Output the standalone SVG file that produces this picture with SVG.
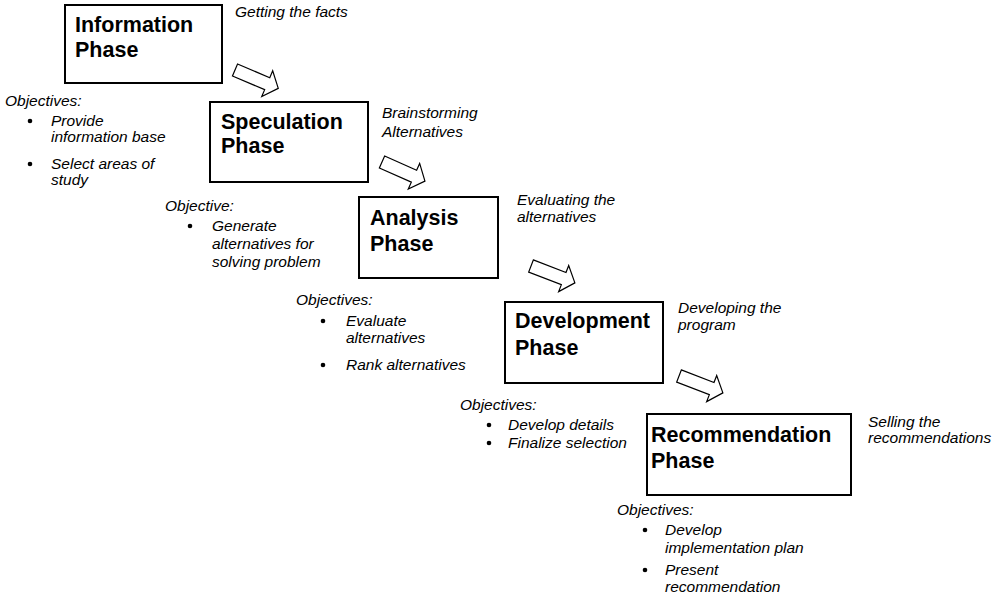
<svg xmlns="http://www.w3.org/2000/svg" width="1006" height="602" viewBox="0 0 1006 602">
<defs>
<style>
.box{fill:#fff;stroke:#000;stroke-width:2}
.title{font-family:"Liberation Sans",Arial,Helvetica,sans-serif;font-weight:bold;font-size:21.5px;fill:#000}
.it{font-family:"Liberation Sans",Arial,Helvetica,sans-serif;font-style:italic;font-size:15.5px;fill:#000}
.arrow{fill:#fff;stroke:#000;stroke-width:1.2;stroke-linejoin:miter}
.dot{fill:#000}
</style>
<path id="blk" d="M0,-6.5 L35,-6.5 L35,-14 L47,0 L35,14 L35,6.5 L0,6.5 Z"/>
</defs>
<rect width="1006" height="602" fill="#fff"/>

<g id="connectors">
<use href="#blk" class="arrow" transform="translate(235,70) rotate(23)"/>
<use href="#blk" class="arrow" transform="translate(382,162) rotate(24)"/>
<use href="#blk" class="arrow" transform="translate(531,266) rotate(21)"/>
<use href="#blk" class="arrow" transform="translate(679,376) rotate(21)"/>
</g>

<g id="information">
<rect class="box" x="65" y="5" width="157" height="78"/>
<text class="title" x="75" y="32">Information</text>
<text class="title" x="75" y="57">Phase</text>
<text class="it" x="235" y="17">Getting the facts</text>
<text class="it" x="5" y="106">Objectives:</text>
<circle class="dot" cx="30" cy="121" r="2.3"/>
<text class="it" x="51" y="126">Provide</text>
<text class="it" x="51" y="142">information base</text>
<circle class="dot" cx="30" cy="164" r="2.3"/>
<text class="it" x="51" y="169">Select areas of</text>
<text class="it" x="51" y="185">study</text>
</g>

<g id="speculation">
<rect class="box" x="210" y="102" width="158" height="80"/>
<text class="title" x="221" y="129">Speculation</text>
<text class="title" x="221" y="153">Phase</text>
<text class="it" x="382" y="118">Brainstorming</text>
<text class="it" x="382" y="137">Alternatives</text>
<text class="it" x="165" y="211">Objective:</text>
<circle class="dot" cx="190" cy="226" r="2.3"/>
<text class="it" x="212" y="231">Generate</text>
<text class="it" x="212" y="249">alternatives for</text>
<text class="it" x="212" y="267">solving problem</text>
</g>

<g id="analysis">
<rect class="box" x="359" y="197" width="139" height="81"/>
<text class="title" x="370" y="225">Analysis</text>
<text class="title" x="370" y="251">Phase</text>
<text class="it" x="517" y="205">Evaluating the</text>
<text class="it" x="517" y="222">alternatives</text>
<text class="it" x="296" y="305">Objectives:</text>
<circle class="dot" cx="323" cy="321" r="2.3"/>
<text class="it" x="346" y="326">Evaluate</text>
<text class="it" x="346" y="343">alternatives</text>
<circle class="dot" cx="323" cy="365" r="2.3"/>
<text class="it" x="346" y="370">Rank alternatives</text>
</g>

<g id="development">
<rect class="box" x="505" y="302" width="158" height="81"/>
<text class="title" x="515" y="328">Development</text>
<text class="title" x="515" y="355">Phase</text>
<text class="it" x="678" y="313">Developing the</text>
<text class="it" x="678" y="330">program</text>
<text class="it" x="460" y="410">Objectives:</text>
<circle class="dot" cx="489" cy="425" r="2.3"/>
<text class="it" x="508" y="430">Develop details</text>
<circle class="dot" cx="489" cy="443" r="2.3"/>
<text class="it" x="508" y="448">Finalize selection</text>
</g>

<g id="recommendation">
<rect class="box" x="647" y="414" width="204" height="81"/>
<text class="title" x="651" y="442">Recommendation</text>
<text class="title" x="651" y="468">Phase</text>
<text class="it" x="868" y="427">Selling the</text>
<text class="it" x="868" y="443">recommendations</text>
<text class="it" x="617" y="515">Objectives:</text>
<circle class="dot" cx="645" cy="530" r="2.3"/>
<text class="it" x="665" y="535">Develop</text>
<text class="it" x="665" y="553">implementation plan</text>
<circle class="dot" cx="645" cy="570" r="2.3"/>
<text class="it" x="665" y="575">Present</text>
<text class="it" x="665" y="592">recommendation</text>
</g>
</svg>
